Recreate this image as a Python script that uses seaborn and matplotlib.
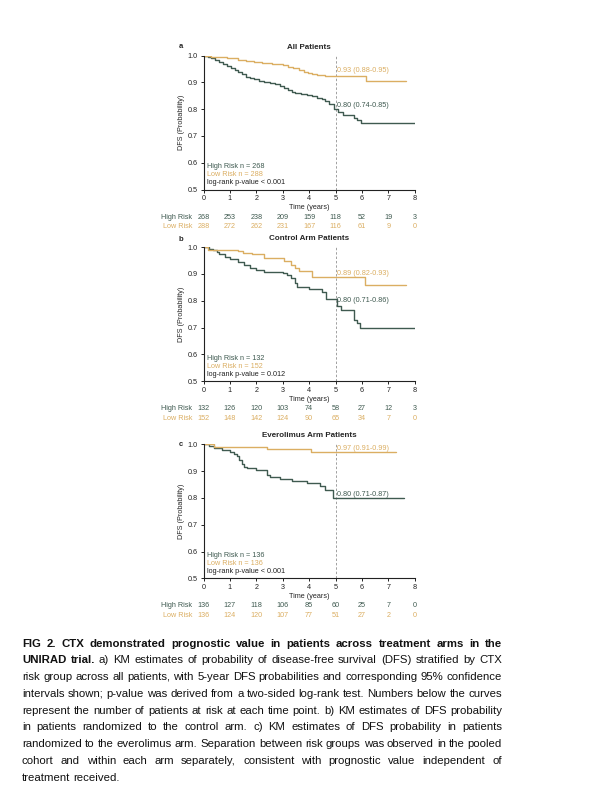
import matplotlib

matplotlib.use('Agg')
import matplotlib.pyplot as plt
import matplotlib.transforms as mtransforms
import pandas as pd
import seaborn as sns

sns.set_style('ticks')
plt.rcParams['font.family'] = ['Liberation Sans', 'DejaVu Sans']

HIGH_COLOR = '#3f5a50'
LOW_COLOR = '#dbae62'

# --- KM step data (time in years, survival) ---
a_high_t = [0, 0.15, 0.3, 0.45, 0.6, 0.75, 0.9, 1.05, 1.2, 1.3, 1.45, 1.6, 1.75, 1.9, 2.1, 2.3, 2.5,
            2.7, 2.9, 3.05, 3.2, 3.35, 3.45, 3.7, 3.9, 4.1, 4.3, 4.5, 4.6, 4.75, 4.95, 5.1, 5.3,
            5.7, 5.8, 5.95, 8.0]
a_high_s = [1.0, 0.995, 0.99, 0.983, 0.975, 0.967, 0.96, 0.952, 0.945, 0.937, 0.93, 0.922, 0.915,
            0.912, 0.907, 0.903, 0.897, 0.893, 0.886, 0.88, 0.873, 0.866, 0.86, 0.857, 0.852, 0.848,
            0.843, 0.838, 0.83, 0.82, 0.80, 0.79, 0.78, 0.768, 0.758, 0.75, 0.75]
a_low_t = [0, 0.3, 0.9, 1.3, 1.6, 1.9, 2.2, 2.6, 3.0, 3.2, 3.4, 3.6, 3.8, 3.95, 4.1, 4.3, 4.6,
           6.15, 7.65]
a_low_s = [1.0, 0.995, 0.99, 0.985, 0.98, 0.976, 0.972, 0.97, 0.964, 0.958, 0.952, 0.946, 0.94,
           0.935, 0.93, 0.928, 0.925, 0.905, 0.905]

b_high_t = [0, 0.2, 0.35, 0.5, 0.6, 0.8, 1.0, 1.3, 1.55, 1.75, 2.0, 2.3, 3.0, 3.15, 3.3, 3.45,
            3.55, 4.0, 4.5, 4.65, 5.05, 5.2, 5.7, 5.8, 5.92, 8.0]
b_high_s = [1.0, 0.993, 0.988, 0.982, 0.975, 0.965, 0.955, 0.945, 0.932, 0.924, 0.915, 0.909,
            0.905, 0.895, 0.885, 0.868, 0.853, 0.843, 0.833, 0.805, 0.78, 0.765, 0.73, 0.718,
            0.70, 0.70]
b_low_t = [0, 0.15, 1.3, 1.5, 1.85, 2.3, 3.05, 3.3, 3.45, 3.6, 4.1, 6.12, 7.65]
b_low_s = [1.0, 0.99, 0.985, 0.98, 0.974, 0.961, 0.949, 0.935, 0.922, 0.91, 0.89, 0.86, 0.86]

c_high_t = [0, 0.2, 0.38, 0.7, 1.0, 1.15, 1.25, 1.35, 1.45, 1.55, 1.65, 2.0, 2.4, 2.5, 2.9,
            3.35, 3.9, 4.4, 4.6, 4.9, 7.6]
c_high_s = [1.0, 0.993, 0.985, 0.979, 0.97, 0.963, 0.955, 0.94, 0.928, 0.917, 0.91, 0.904,
            0.886, 0.877, 0.87, 0.863, 0.854, 0.845, 0.83, 0.80, 0.80]
c_low_t = [0, 0.38, 2.4, 4.06, 7.3]
c_low_s = [1.0, 0.99, 0.983, 0.97, 0.97]

# numbers at risk
risk_times = [0, 1, 2, 3, 4, 5, 6, 7, 8]
a_risk_high = [268, 253, 238, 209, 159, 118, 52, 19, 3]
a_risk_low = [288, 272, 262, 231, 167, 116, 61, 9, 0]
b_risk_high = [132, 126, 120, 103, 74, 58, 27, 12, 3]
b_risk_low = [152, 148, 142, 124, 90, 65, 34, 7, 0]
c_risk_high = [136, 127, 118, 106, 85, 60, 25, 7, 0]
c_risk_low = [136, 124, 120, 107, 77, 51, 27, 2, 0]

# 5-year estimates (low, high)
a_5y = [(0.93, '0.93 (0.88-0.95)'), (0.80, '0.80 (0.74-0.85)')]
b_5y = [(0.89, '0.89 (0.82-0.93)'), (0.80, '0.80 (0.71-0.86)')]
c_5y = [(0.97, '0.97 (0.91-0.99)'), (0.80, '0.80 (0.71-0.87)')]

panels = [
    dict(letter='a', title='All Patients', high=(a_high_t, a_high_s), low=(a_low_t, a_low_s),
         n=(268, 288), p='log-rank p-value < 0.001', risk=(a_risk_high, a_risk_low), est=a_5y,
         va=('bottom', 'bottom'), bottom=0.763, letter_y=1.067),
    dict(letter='b', title='Control Arm Patients', high=(b_high_t, b_high_s), low=(b_low_t, b_low_s),
         n=(132, 152), p='log-rank p-value = 0.012', risk=(b_risk_high, b_risk_low), est=b_5y,
         va=('bottom', 'center'), bottom=0.5235, letter_y=1.06),
    dict(letter='c', title='Everolimus Arm Patients', high=(c_high_t, c_high_s), low=(c_low_t, c_low_s),
         n=(136, 136), p='log-rank p-value < 0.001', risk=(c_risk_high, c_risk_low), est=c_5y,
         va=('bottom', 'bottom'), bottom=0.2771, letter_y=1.0),
]

fig = plt.figure(figsize=(5.9, 8), dpi=100)
FS = 5.2

for p in panels:
    ax = fig.add_axes([0.345, p['bottom'], 0.358, 0.1675])
    df = pd.concat([
        pd.DataFrame({'time': p['high'][0], 'surv': p['high'][1], 'group': 'High Risk'}),
        pd.DataFrame({'time': p['low'][0], 'surv': p['low'][1], 'group': 'Low Risk'}),
    ])
    sns.lineplot(data=df, x='time', y='surv', hue='group', estimator=None, sort=False,
                 palette={'High Risk': HIGH_COLOR, 'Low Risk': LOW_COLOR},
                 drawstyle='steps-post', lw=1.0, legend=False, ax=ax)
    ax.axvline(5, color='#a0a0a0', ls=(0, (2.5, 2)), lw=0.7, zorder=0)

    ax.set_xlim(0, 8)
    ax.set_ylim(0.5, 1.0)
    ax.set_xticks(range(9))
    ax.set_yticks([0.5, 0.6, 0.7, 0.8, 0.9, 1.0])
    ax.set_yticklabels([f'{v:.1f}' for v in [0.5, 0.6, 0.7, 0.8, 0.9, 1.0]])
    ax.tick_params(labelsize=FS, length=2.5, width=0.7, pad=1.5, colors='#222222')
    for s in ['left', 'bottom']:
        ax.spines[s].set_linewidth(0.8)
        ax.spines[s].set_color('#222222')
    sns.despine(ax=ax)
    ax.set_xlabel('Time (years)', fontsize=FS, labelpad=1.5)
    ax.set_ylabel('DFS (Probability)', fontsize=FS, labelpad=2)
    ax.set_title(p['title'], fontsize=5.8, fontweight='bold', pad=5)
    ax.text(-0.108, p['letter_y'], p['letter'], transform=ax.transAxes, fontsize=5.5,
            fontweight='bold', ha='center', va='center')

    # 5-year labels
    (lv, ltxt), (hv, htxt) = p['est']
    ax.text(5.05, lv, ltxt, color=LOW_COLOR, fontsize=FS, va=p['va'][0], ha='left')
    ax.text(5.05, hv, htxt, color=HIGH_COLOR, fontsize=FS, va=p['va'][1], ha='left')

    # n / p-value block
    ax.text(0.13, 0.586, f'High Risk n = {p["n"][0]}', color=HIGH_COLOR, fontsize=FS, va='center')
    ax.text(0.13, 0.556, f'Low Risk n = {p["n"][1]}', color=LOW_COLOR, fontsize=FS, va='center')
    ax.text(0.13, 0.525, p['p'], color='#222222', fontsize=FS, va='center')

    # numbers at risk
    tr = mtransforms.blended_transform_factory(ax.transData, ax.transAxes)
    for row, (vals, col, lab) in enumerate(zip(p['risk'], [HIGH_COLOR, LOW_COLOR],
                                               ['High Risk', 'Low Risk'])):
        yy = -0.205 - 0.073 * row
        ax.text(-0.43, yy, lab, color=col, fontsize=FS, ha='right', va='center',
                transform=tr, clip_on=False)
        for t, v in zip(risk_times, vals):
            ax.text(t, yy, str(v), color=col, fontsize=FS, ha='center', va='center',
                    transform=tr, clip_on=False)

# --- caption, justified by hand ---
caption_lines = [
    [('FIG 2. CTX demonstrated prognostic value in patients across treatment arms in the', 'bold')],
    [('UNIRAD trial.', 'bold'),
     ('a) KM estimates of probability of disease-free survival (DFS) stratified by CTX', 'normal')],
    [('risk group across all patients, with 5-year DFS probabilities and corresponding 95% confidence', 'normal')],
    [('intervals shown; p-value was derived from a two-sided log-rank test. Numbers below the curves', 'normal')],
    [('represent the number of patients at risk at each time point. b) KM estimates of DFS probability', 'normal')],
    [('in patients randomized to the control arm. c) KM estimates of DFS probability in patients', 'normal')],
    [('randomized to the everolimus arm. Separation between risk groups was observed in the pooled', 'normal')],
    [('cohort and within each arm separately, consistent with prognostic value independent of', 'normal')],
    [('treatment received.', 'normal')],
]

ident = mtransforms.IdentityTransform()
renderer = fig.canvas.get_renderer()
X0, X1 = 22, 502
Y_FIRST, LINE_H = 642.7, 16.75
H = 800


def words_of(line):
    out = []
    for seg, wt in line:
        out += [(w, wt) for w in seg.split()]
    return out


def measure(word, wt, size):
    t = fig.text(0, 0, word, fontsize=size, fontweight=wt, transform=ident)
    w = t.get_window_extent(renderer).width
    t.remove()
    return w


# pick caption size so the tightest plain line fills the column with normal spaces
base = 9.0
base_space = measure('a a', 'normal', base) - 2 * measure('a', 'normal', base)
widest = 0
for line in caption_lines[2:-1]:
    ws = words_of(line)
    tot = sum(measure(w, wt, base) for w, wt in ws) + (len(ws) - 1) * base_space
    widest = max(widest, tot)
CAP_FS = base * (X1 - X0) / widest
space_w = measure('a a', 'normal', CAP_FS) - 2 * measure('a', 'normal', CAP_FS)

for i, line in enumerate(caption_lines):
    ws = words_of(line)
    widths = [measure(w, wt, CAP_FS) for w, wt in ws]
    last = i == len(caption_lines) - 1
    gap = space_w if last else (X1 - X0 - sum(widths)) / (len(ws) - 1)
    x = X0
    y = H - (Y_FIRST + i * LINE_H)
    for (w, wt), wd in zip(ws, widths):
        fig.text(x, y, w, fontsize=CAP_FS, fontweight=wt, color='#111111',
                 va='center_baseline', ha='left', transform=ident)
        x += wd + gap

fig.savefig('out.png', dpi=100, facecolor='white')
